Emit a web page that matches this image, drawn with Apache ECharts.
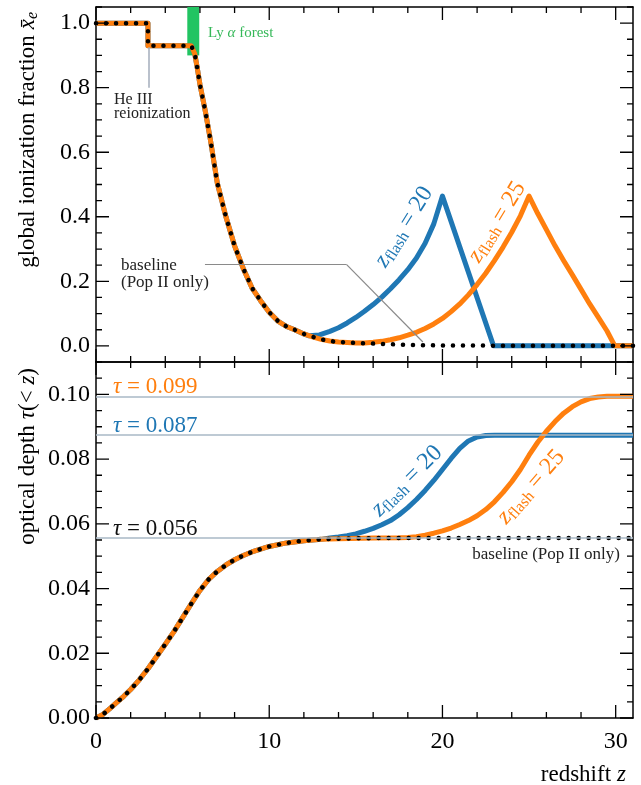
<!DOCTYPE html>
<html>
<head>
<meta charset="utf-8">
<script src="https://cdn.jsdelivr.net/npm/echarts@6/dist/echarts.min.js"></script>
<style>
  html, body { margin: 0; padding: 0; background: #fff; }
  #wrap { position: relative; width: 641px; height: 785px; }
  #chart { width: 641px; height: 785px; }
  #ticks { position: absolute; left: 0; top: 0; pointer-events: none; }
</style>
</head>
<body>
<div id="wrap">
  <div id="chart"></div>
  <svg id="ticks" width="641" height="785" xmlns="http://www.w3.org/2000/svg"></svg>
</div>
<script>
// ---------- tick spacing ----------
var zMajorStep = 10, zMinorStep = 2;
var xeMajorStep = 0.2, xeMinorStep = 0.05;
var tauMajorStep = 0.02, tauMinorStep = 0.005;

// ---------- top panel: global ionization fraction ----------
var xeBaseZ = [0, 3.0, 3.0, 5.5, 5.6, 5.7, 5.85, 6.0, 6.3, 6.6, 7.0, 7.5, 8.0, 8.5, 9.0, 9.5, 10.0, 10.5, 11.0, 11.5, 12.0, 12.5, 13.0, 13.5, 14.0, 15.0, 16.0, 17.0, 18.0, 19.0, 20.0, 31.0];
var xeBaseV = [1.0, 1.0, 0.93, 0.93, 0.925, 0.905, 0.86, 0.81, 0.73, 0.64, 0.505, 0.40, 0.31, 0.24, 0.18, 0.14, 0.104, 0.077, 0.060, 0.049, 0.037, 0.028, 0.020, 0.015, 0.012, 0.009, 0.007, 0.005, 0.003, 0.002, 0.001, 0.0];

var xeFlash20Z = [12.3, 12.9, 13.5, 14.0, 14.5, 15.0, 15.5, 16.0, 16.5, 17.0, 17.5, 18.0, 18.5, 19.0, 19.5, 20.0, 22.95, 31.0];
var xeFlash20V = [0.031, 0.034, 0.045, 0.056, 0.071, 0.088, 0.107, 0.128, 0.151, 0.177, 0.205, 0.236, 0.272, 0.318, 0.378, 0.464, 0.0, 0.0];

var xeFlash25Z = [15.0, 15.5, 16.0, 16.5, 17.0, 17.5, 18.0, 18.5, 19.0, 19.5, 20.0, 20.5, 21.0, 21.5, 22.0, 22.5, 23.0, 23.5, 24.0, 24.5, 25.0, 25.5, 26.0, 26.5, 27.0, 27.5, 28.0, 28.5, 29.0, 29.5, 29.95, 31.0];
var xeFlash25V = [0.009, 0.009, 0.011, 0.014, 0.019, 0.025, 0.033, 0.042, 0.054, 0.068, 0.085, 0.106, 0.130, 0.158, 0.190, 0.225, 0.264, 0.306, 0.352, 0.403, 0.464, 0.41, 0.36, 0.31, 0.264, 0.22, 0.175, 0.13, 0.088, 0.046, 0.0, 0.0];

// ---------- bottom panel: optical depth ----------
var tauBaseZ = [0, 0.4, 0.8, 1.2, 1.6, 2.0, 2.5, 3.0, 3.5, 4.0, 4.5, 5.0, 5.5, 6.0, 6.5, 7.0, 7.5, 8.0, 8.5, 9.0, 9.5, 10.0, 11.0, 12.0, 13.0, 14.0, 16.0, 31.0];
var tauBaseV = [0, 0.0011, 0.0029, 0.0048, 0.0067, 0.0088, 0.0118, 0.0152, 0.019, 0.0228, 0.0267, 0.031, 0.0353, 0.0394, 0.0428, 0.0453, 0.0473, 0.0489, 0.0502, 0.0513, 0.0522, 0.053, 0.0541, 0.0548, 0.0552, 0.0554, 0.0556, 0.0556];

var tauFlash20Z = [13.5, 14.0, 14.5, 15.0, 15.5, 16.0, 16.5, 17.0, 17.5, 18.0, 18.5, 19.0, 19.5, 20.0, 20.5, 21.0, 21.5, 22.0, 22.5, 23.0, 31.0];
var tauFlash20V = [0.0556, 0.0559, 0.0563, 0.0569, 0.0577, 0.0586, 0.0597, 0.061, 0.0628, 0.065, 0.0675, 0.0703, 0.0734, 0.0768, 0.0802, 0.0833, 0.0856, 0.0868, 0.0873, 0.0874, 0.0874];

var tauFlash25Z = [17.5, 18.0, 18.5, 19.0, 19.5, 20.0, 20.5, 21.0, 21.5, 22.0, 22.5, 23.0, 23.5, 24.0, 24.5, 25.0, 25.5, 26.0, 26.5, 27.0, 27.5, 28.0, 28.5, 29.0, 29.5, 31.0];
var tauFlash25V = [0.0557, 0.0558, 0.056, 0.0565, 0.0571, 0.0578, 0.0587, 0.0598, 0.061, 0.0625, 0.0644, 0.0668, 0.0697, 0.073, 0.0768, 0.0812, 0.0852, 0.0886, 0.0916, 0.0942, 0.0962, 0.0977, 0.0987, 0.0992, 0.0994, 0.0994];

var tauTotals = [0.0556, 0.0874, 0.0994];

// ---------- layout ----------
var FONT = 'Liberation Serif';
var BLUE = '#1f77b4', ORANGE = '#ff7f0e', GREEN = '#22c462';
var grids = [
    { left: 96, top: 7, width: 537, height: 355 },
    { left: 96, top: 362, width: 537, height: 356 }
];

function pairs(zs, vs) {
    return zs.map(function(z, i) { return [z, vs[i]]; });
}
// the flash curves follow the baseline until they split off
function withBase(baseZ, baseV, zs, vs) {
    var out = [];
    for (var i = 0; i < baseZ.length; i++) {
        if (baseZ[i] < zs[0]) out.push([baseZ[i], baseV[i]]);
    }
    return out.concat(pairs(zs, vs));
}
function steps(mn, mx, step) {
    var out = [];
    for (var k = Math.ceil(mn / step - 1e-9); k * step <= mx + 1e-9; k++) out.push(+(k * step).toFixed(6));
    return out;
}

function frameAxis(kind, grid, pos, mn, mx, step, labels, dec) {
    return {
        type: 'value', gridIndex: grid, position: pos, min: mn, max: mx,
        interval: step || undefined, splitNumber: 5,
        axisLine: { show: true, onZero: false, lineStyle: { color: '#000', width: 1.5 } },
        axisTick: { show: false },
        axisLabel: {
            show: labels, margin: kind === 'x' ? 12 : 6, color: '#000', fontFamily: FONT, fontSize: 24,
            showMinLabel: mn === 0, showMaxLabel: false,
            formatter: function(v) { return dec ? v.toFixed(dec) : String(v); }
        },
        splitLine: { show: false }
    };
}
function curve(name, data, xi, yi, color, width, dotted) {
    return {
        name: name, type: 'line', xAxisIndex: xi, yAxisIndex: yi, data: data,
        showSymbol: false, symbol: 'none', silent: true,
        lineStyle: dotted
            ? { color: '#000', width: 4.5, type: [0.1, 9.9], cap: 'round' }
            : { color: color, width: width, cap: 'butt', join: 'round' }
    };
}
function label(x, y, rot, text, rich, align) {
    return {
        type: 'text', x: x, y: y, rotation: rot, silent: true,
        style: { text: text, rich: rich, align: align || 'center', verticalAlign: 'middle', fontFamily: FONT }
    };
}
function flashRich(color) {
    return {
        z: { fontFamily: FONT, fontStyle: 'italic', fontSize: 24, fill: color },
        s: { fontFamily: FONT, fontSize: 16, fill: color, padding: [10, 0, 0, 0] },
        n: { fontFamily: FONT, fontSize: 24, fill: color }
    };
}
function tauRich(color) {
    return {
        t: { fontFamily: FONT, fontStyle: 'italic', fontSize: 23, fill: color },
        n: { fontFamily: FONT, fontSize: 23, fill: color }
    };
}

var chart = echarts.init(document.getElementById('chart'));
var option = {
    animation: false,
    backgroundColor: '#fff',
    grid: grids,
    xAxis: [
        frameAxis('x', 0, 'bottom', 0, 31, zMajorStep, false, 0),
        frameAxis('x', 0, 'top', 0, 31, zMajorStep, false, 0),
        frameAxis('x', 1, 'bottom', 0, 31, zMajorStep, true, 0),
        frameAxis('x', 1, 'top', 0, 31, zMajorStep, false, 0)
    ],
    yAxis: [
        frameAxis('y', 0, 'left', -0.05, 1.05, null, true, 1),
        frameAxis('y', 0, 'right', -0.05, 1.05, null, false, 1),
        frameAxis('y', 1, 'left', 0, 0.11, tauMajorStep, true, 2),
        frameAxis('y', 1, 'right', 0, 0.11, tauMajorStep, false, 2)
    ],
    series: [
        // annotations (under the curves)
        {
            type: 'line', xAxisIndex: 0, yAxisIndex: 0, data: [], z: 1, silent: true,
            markArea: {
                silent: true,
                itemStyle: { color: GREEN },
                data: [[{ xAxis: 5.27, yAxis: 0.9 }, { xAxis: 5.96, yAxis: 1.05 }]]
            },
            markLine: {
                silent: true, symbol: 'none', precision: 4, label: { show: false },
                data: [
                    [{ coord: [3.06, 0.925], lineStyle: { color: '#a3adbb', width: 1.5, type: 'solid' } }, { coord: [3.06, 0.80] }],
                    [{ coord: [6.29, 0.2515], lineStyle: { color: '#8a8a8a', width: 1.2, type: 'solid' } }, { coord: [14.47, 0.2515] }],
                    [{ coord: [14.47, 0.2515], lineStyle: { color: '#8a8a8a', width: 1.2, type: 'solid' } }, { coord: [18.87, 0.012] }]
                ]
            }
        },
        {
            type: 'line', xAxisIndex: 2, yAxisIndex: 2, data: [], z: 1, silent: true,
            markLine: {
                silent: true, symbol: 'none', precision: 5, label: { show: false },
                lineStyle: { color: '#a9b8c6', width: 1.5, type: 'solid' },
                data: tauTotals.map(function(t) { return { yAxis: t }; })
            }
        },
        curve('xe zflash=20', withBase(xeBaseZ, xeBaseV, xeFlash20Z, xeFlash20V), 0, 0, BLUE, 5),
        curve('xe zflash=25', withBase(xeBaseZ, xeBaseV, xeFlash25Z, xeFlash25V), 0, 0, ORANGE, 5),
        curve('xe baseline', pairs(xeBaseZ, xeBaseV), 0, 0, '#000', 4.5, true),
        curve('tau zflash=20', withBase(tauBaseZ, tauBaseV, tauFlash20Z, tauFlash20V), 2, 2, BLUE, 5),
        curve('tau zflash=25', withBase(tauBaseZ, tauBaseV, tauFlash25Z, tauFlash25V), 2, 2, ORANGE, 5),
        curve('tau baseline', pairs(tauBaseZ, tauBaseV), 2, 2, '#000', 4.5, true)
    ],
    graphic: [
        // axis titles
        label(28, 12, Math.PI / 2, '{n|global ionization fraction}  {x|x\u0304}{e|e}', {
            n: { fontFamily: FONT, fontSize: 23, fill: '#000' },
            x: { fontFamily: FONT, fontStyle: 'italic', fontSize: 23, fill: '#000' },
            e: { fontFamily: FONT, fontStyle: 'italic', fontSize: 16, fill: '#000', padding: [10, 0, 0, 0] }
        }, 'right'),
        label(28, 368, Math.PI / 2, '{n|optical depth}  {t|\u03c4}{n|(< }{t|z}{n|)}', {
            n: { fontFamily: FONT, fontSize: 23, fill: '#000' },
            t: { fontFamily: FONT, fontStyle: 'italic', fontSize: 23, fill: '#000' }
        }, 'right'),
        label(626, 775, 0, '{n|redshift}  {t|z}', {
            n: { fontFamily: FONT, fontSize: 23, fill: '#000' },
            t: { fontFamily: FONT, fontStyle: 'italic', fontSize: 23, fill: '#000' }
        }, 'right'),
        // annotations
        label(208, 33, 0, '{n|Ly }{t|\u03b1}{n| forest}', {
            n: { fontFamily: FONT, fontSize: 15, fill: '#35b858' },
            t: { fontFamily: FONT, fontStyle: 'italic', fontSize: 15, fill: '#35b858' }
        }, 'left'),
        label(114, 107, 0, '{n|He III}\n{n|reionization}', {
            n: { fontFamily: FONT, fontSize: 16, fill: '#222', lineHeight: 14 }
        }, 'left'),
        label(121, 274, 0, '{n|baseline}\n{n|(Pop II only)}', {
            n: { fontFamily: FONT, fontSize: 17, fill: '#222', lineHeight: 17 }
        }, 'left'),
        label(620, 555, 0, '{n|baseline (Pop II only)}', {
            n: { fontFamily: FONT, fontSize: 17, fill: '#222' }
        }, 'right'),
        // z_flash labels
        label(404, 227, 58 * Math.PI / 180, '{z|z}{s|flash}{n| = 20}', flashRich(BLUE)),
        label(497, 222, 58.5 * Math.PI / 180, '{z|z}{s|flash}{n| = 25}', flashRich(ORANGE)),
        label(407, 481, 45 * Math.PI / 180, '{z|z}{s|flash}{n| = 20}', flashRich(BLUE)),
        label(531, 487, 49 * Math.PI / 180, '{z|z}{s|flash}{n| = 25}', flashRich(ORANGE)),
        // optical depth totals
        label(113, 387, 0, '{t|\u03c4}{n| = 0.099}', tauRich(ORANGE), 'left'),
        label(113, 426, 0, '{t|\u03c4}{n| = 0.087}', tauRich(BLUE), 'left'),
        label(113, 529, 0, '{t|\u03c4}{n| = 0.056}', tauRich('#111'), 'left')
    ]
};
chart.setOption(option);

// inward ticks on all four sides of both panels
var svg = document.getElementById('ticks');
var pathD = '';
function tick(x1, y1, x2, y2) {
    pathD += 'M' + x1.toFixed(2) + ' ' + y1.toFixed(2) + 'L' + x2.toFixed(2) + ' ' + y2.toFixed(2);
}
function panelTicks(gi, yMin, yMax, yMajor, yMinor) {
    var g = grids[gi];
    // point -> pixel through the chart's grid; linear fallback from the grid box
    function toPx(x, y) {
        var p = null;
        try { p = chart.convertToPixel({ gridIndex: gi }, [x, y]); } catch (e) { p = null; }
        if (!p || !isFinite(p[0]) || !isFinite(p[1])) {
            p = [g.left + x / 31 * g.width, g.top + (yMax - y) / (yMax - yMin) * g.height];
        }
        return p;
    }
    var left = g.left, right = g.left + g.width, top = g.top, bottom = g.top + g.height;
    [[zMinorStep, 6], [zMajorStep, 13]].forEach(function(s) {
        steps(0, 31, s[0]).forEach(function(v) {
            var x = toPx(v, yMin)[0];
            tick(x, bottom, x, bottom - s[1]);
            tick(x, top, x, top + s[1]);
        });
    });
    [[yMinor, 6], [yMajor, 13]].forEach(function(s) {
        steps(yMin, yMax, s[0]).forEach(function(v) {
            var y = toPx(0, v)[1];
            tick(left, y, left + s[1], y);
            tick(right, y, right - s[1], y);
        });
    });
}
panelTicks(0, -0.05, 1.05, xeMajorStep, xeMinorStep);
panelTicks(1, 0, 0.11, tauMajorStep, tauMinorStep);
svg.innerHTML = '<path d="' + pathD + '" stroke="#000" stroke-width="1.3" fill="none"/>';
</script>
</body>
</html>
